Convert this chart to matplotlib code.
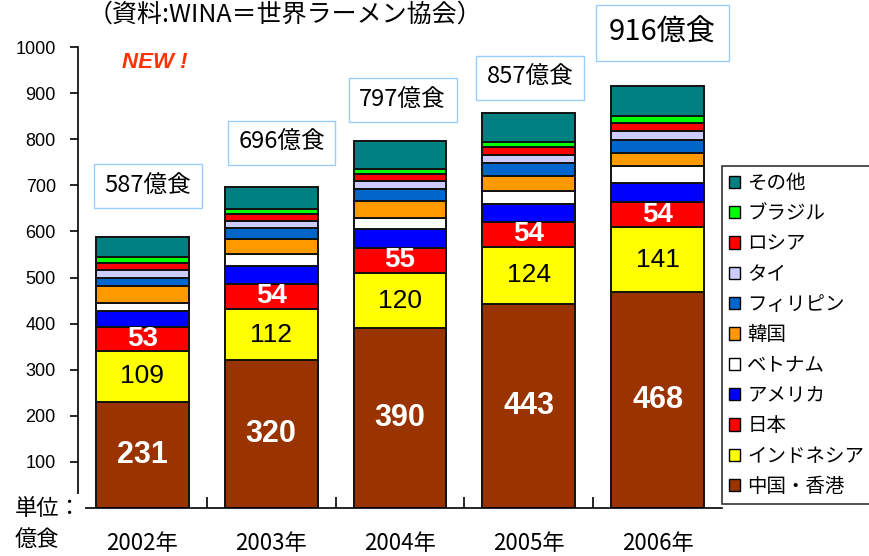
import numpy as np
import matplotlib
matplotlib.use("Agg")
from matplotlib import pyplot as plt
from matplotlib.patches import Patch

years = ["2002年", "2003年", "2004年", "2005年", "2006年"]
totals = [587, 696, 797, 857, 916]

# 下から順に積み上げ（単位: 億食）
countries = ["中国・香港", "インドネシア", "日本", "アメリカ", "ベトナム",
             "韓国", "フィリピン", "タイ", "ロシア", "ブラジル", "その他"]
china = [231, 320, 390, 443, 468]
indonesia = [109, 112, 120, 124, 141]
japan = [53, 54, 55, 54, 54]
usa = [34, 40, 40, 39, 42]
vietnam = [17, 24, 24, 27, 36]
korea = [37, 34, 38, 34, 30]
philippines = [17, 24, 25, 27, 27]
thailand = [18, 14, 18, 18, 20]
russia = [15, 15, 14, 17, 18]
brazil = [13, 11, 11, 12, 14]
others = [43, 48, 62, 62, 66]

colors = ["#993300", "#ffff00", "#ff0000", "#0000ff", "#ffffff",
          "#ff9900", "#0066cc", "#ccccff", "#ff0000", "#00ff00", "#008080"]

# 合計ラベルの位置（データ座標）
total_x_off = [0.04, 0.08, 0.02, 0.01, 0.035]
total_y = [698, 792, 885, 933, 1031]
total_size = [17, 17, 17, 17, 21]

JP = ["Noto Sans CJK JP", "DejaVu Sans"]

fig = plt.figure(figsize=(8.7, 5.56), dpi=100)
ax = fig.add_axes([78 / 870, 1 - 508 / 556, (722 - 78) / 870, (508 - 47) / 556])

series = [china, indonesia, japan, usa, vietnam, korea, philippines,
          thailand, russia, brazil, others]
x = np.arange(len(years))
bottom = np.zeros(len(years))
for vals, c in zip(series, colors):
    ax.bar(x, vals, 0.72, bottom=bottom, color=c, edgecolor="#111111",
           linewidth=1.4, zorder=2)
    bottom += np.array(vals)

for i in range(len(years)):
    ax.text(x[i], china[i] / 2, str(china[i]), ha="center", va="center",
            color="white", fontsize=22, fontweight="bold",
            family="Liberation Sans", zorder=3)
    ax.text(x[i], china[i] + indonesia[i] / 2, str(indonesia[i]),
            ha="center", va="center", color="black", fontsize=19,
            family="Liberation Sans", zorder=3)
    ax.text(x[i], china[i] + indonesia[i] + japan[i] / 2, str(japan[i]),
            ha="center", va="center", color="white", fontsize=20,
            fontweight="bold", family="Liberation Sans", zorder=3)
    ax.text(x[i] + total_x_off[i], total_y[i], f"{totals[i]}億食",
            ha="center", va="center", fontsize=total_size[i], family=JP,
            clip_on=False, zorder=4,
            bbox=dict(boxstyle="square,pad=0.45", fc="white",
                      ec="#99ccff", lw=1.0))

ax.set_xlim(-0.5, 4.5)
ax.set_ylim(0, 1000)
ax.set_yticks(np.arange(100, 1001, 100))
ax.set_yticklabels([str(v) for v in range(100, 1001, 100)],
                   family="Liberation Sans", fontsize=13)
ax.tick_params(axis="y", direction="out", length=6, width=1.2, pad=10)
ax.set_xticks(x)
ax.set_xticklabels(years, family=JP, fontsize=16)
ax.tick_params(axis="x", length=0, pad=17)
ax.set_xticks(np.arange(0.5, 4, 1), minor=True)
ax.tick_params(axis="x", which="minor", direction="in", length=8, width=1.2)
for s in ["top", "right"]:
    ax.spines[s].set_visible(False)
ax.spines["left"].set_linewidth(1.2)
ax.spines["bottom"].set_linewidth(1.2)

fig.text(285 / 870, 1 - 15 / 556, "（資料:WINA＝世界ラーメン協会）",
         ha="center", va="center", fontsize=18, family=JP)
fig.text(155 / 870, 1 - 62 / 556, "NEW !", ha="center", va="center",
         fontsize=16, color="#ff3300", fontweight="bold", style="italic",
         family="Liberation Sans")
fig.text(15 / 870, 1 - 524 / 556, "単位：\n億食", ha="left", va="center",
         fontsize=16, family=JP, linespacing=1.4,
         bbox=dict(boxstyle="square,pad=0.15", fc="white", ec="none"))

handles = [Patch(facecolor=c, edgecolor="black", linewidth=1.0)
           for c in colors][::-1]
leg = fig.legend(handles, countries[::-1], loc="upper left",
                 bbox_to_anchor=(722 / 870, 1 - 166 / 556),
                 prop={"family": JP, "size": 14}, frameon=True,
                 fancybox=False, edgecolor="black", handlelength=0.6,
                 handleheight=0.6, handletextpad=0.35, labelspacing=0.48,
                 borderpad=0.35, borderaxespad=0)
leg.get_frame().set_linewidth(1.2)

fig.savefig("out.png", dpi=100)
